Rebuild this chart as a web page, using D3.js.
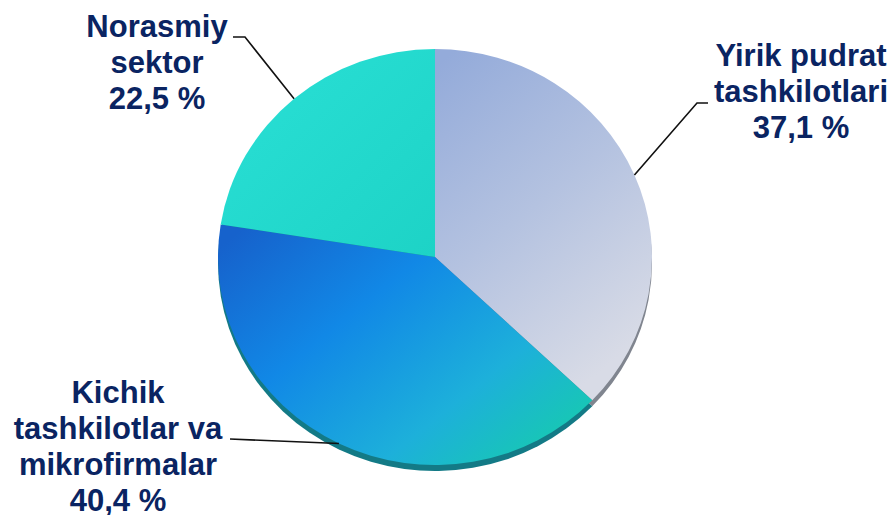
<!DOCTYPE html>
<html>
<head>
<meta charset="utf-8">
<script src="https://cdn.jsdelivr.net/npm/d3@7"></script>
<style>
  body { margin: 0; background: #fff; }
</style>
</head>
<body>
<div id="chart"></div>
<script>
const width = 895;
const height = 515;

// data
const categories = ["Yirik pudrat tashkilotlari", "Kichik tashkilotlar va mikrofirmalar", "Norasmiy sektor"];
const values = [37.1, 40.4, 22.5];
const valueLabels = ["37,1 %", "40,4 %", "22,5 %"];
const labelLines = [
  ["Yirik pudrat", "tashkilotlari"],
  ["Kichik", "tashkilotlar va", "mikrofirmalar"],
  ["Norasmiy", "sektor"]
];

// layout
const cx = 435, cy = 257, rx = 217, ry = 208;
const labelPos = [
  { x: 801, y: 66, line: [[708, 103], [697, 103]] },
  { x: 118, y: 403, line: [[230, 439]] },
  { x: 157, y: 37, line: [[233, 37], [245, 37]] }
];
const textColor = "#0a2462";

const svg = d3.select("#chart").append("svg")
  .attr("width", width)
  .attr("height", height);

const defs = svg.append("defs");

function gradient(id, x1, y1, x2, y2, stops) {
  const g = defs.append("linearGradient")
    .attr("id", id)
    .attr("x1", x1).attr("y1", y1)
    .attr("x2", x2).attr("y2", y2);
  stops.forEach(([o, c]) => g.append("stop").attr("offset", o).attr("stop-color", c));
}

gradient("g0", 0.1, 0, 0.6, 1, [[0, "#94abda"], [0.5, "#b4c2e0"], [1, "#d8dbe6"]]);
gradient("g1", 0, 0.1, 1, 0.9, [[0, "#1662cc"], [0.35, "#1188e6"], [0.7, "#1db0da"], [1, "#16cdab"]]);
gradient("g2", 0, 0, 1, 1, [[0, "#2ae0d6"], [1, "#1dd3c6"]]);

const fills = ["url(#g0)", "url(#g1)", "url(#g2)"];
const shadowFills = ["#80858f", "#137a86", "#148a80"];

const pie = d3.pie().sort(null).value(d => d);
const arcs = pie(values);
const arc = d3.arc().innerRadius(0).outerRadius(rx);

// shadow / thickness
svg.append("g")
  .attr("transform", `translate(${cx},${cy + 6}) scale(1,${ry / rx})`)
  .selectAll("path")
  .data(arcs)
  .join("path")
  .attr("d", arc)
  .attr("fill", (d, i) => shadowFills[i]);

svg.append("g")
  .attr("transform", `translate(${cx},${cy}) scale(1,${ry / rx})`)
  .selectAll("path")
  .data(arcs)
  .join("path")
  .attr("d", arc)
  .attr("fill", (d, i) => fills[i]);

// leader lines
arcs.forEach((d, i) => {
  const a = (d.startAngle + d.endAngle) / 2;
  const edge = [cx + rx * Math.sin(a), cy - ry * Math.cos(a)];
  const pts = labelPos[i].line.concat([edge]);
  svg.append("path")
    .attr("d", d3.line()(pts))
    .attr("fill", "none")
    .attr("stroke", "#111")
    .attr("stroke-width", 1.6);
});

// labels
categories.forEach((c, i) => {
  const t = svg.append("text")
    .attr("x", labelPos[i].x)
    .attr("y", labelPos[i].y)
    .attr("text-anchor", "middle")
    .attr("fill", textColor)
    .style("font", "bold 31px 'Liberation Sans', Arial, sans-serif");
  labelLines[i].concat([valueLabels[i]]).forEach((s, j) => {
    t.append("tspan")
      .attr("x", labelPos[i].x)
      .attr("dy", j === 0 ? 0 : 36)
      .text(s);
  });
});
</script>
</body>
</html>
